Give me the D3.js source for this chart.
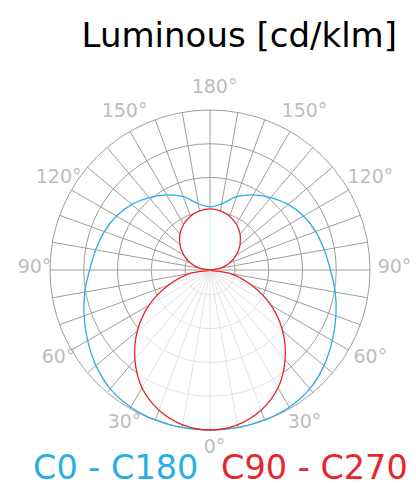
<!DOCTYPE html>
<html><head><meta charset="utf-8">
<script src="https://cdn.jsdelivr.net/npm/d3@7"></script>
<style>body{margin:0;background:#fff} svg{display:block} text{font-family:"DejaVu Sans",sans-serif}</style>
</head><body><svg id="c" width="416" height="486"></svg>
<script>
// gamma angles (deg, 0 = nadir, 180 = zenith)
const angles = [0,10,20,30,40,50,60,70,80,90,100,110,120,130,140,150,160,170,180];
// C0 - C180 plane (cd/klm)
const c0c180 = [400,400,399,396,388,372,353,335,318,301,290,281,270,255,236,217,195,168,158];
// C90 - C270 plane (cd/klm)
const c90c270 = [400,393,373,340,292,237,176,110,52,0,27,52,76,98,117,132,143,150,153];
const ringValues = [62.5,146.9,231.3,315.6,400];
const gridAngles = d3.range(0,360,10);
const angleLabels = [0,30,60,90,120,150,180];
const seriesNames = ["C0 - C180","C90 - C270"];
const seriesColors = ["#2aaee5","#e8242d"];
const title = "Luminous [cd/klm]";

const svg = d3.select("#c");
const cx = 210, cy = 270, R = 160;
const r = d3.scaleLinear().domain([0,400]).range([0,R]);
const rad = d => d*Math.PI/180;
const g = svg.append("g").attr("transform",`translate(${cx},${cy})`);

// grid
g.selectAll("circle.ring").data(ringValues).join("circle")
  .attr("r",d=>r(d)).attr("fill","none").attr("stroke","#9e9e9e").attr("stroke-width",1);
g.selectAll("line.spoke").data(gridAngles).join("line")
  .attr("x1",0).attr("y1",0)
  .attr("x2",d=>R*Math.sin(rad(d))).attr("y2",d=>R*Math.cos(rad(d)))
  .attr("stroke","#9e9e9e").attr("stroke-width",1);

// symmetric curve points: right side (top to bottom) then left side (bottom to top)
function pts(vals, from, to){
  const out=[];
  for(let i=angles.length-1;i>=0;i--){const t=angles[i]; if(t>=from&&t<=to) out.push([Math.PI-rad(t), r(vals[i])]);}
  for(let i=0;i<angles.length;i++){const t=angles[i]; if(t>from&&t<to) out.push([Math.PI+rad(t), r(vals[i])]);}
  return out;
}
const loop = vals => pts(vals,0,180);
const line = d3.lineRadial().curve(d3.curveCatmullRomClosed.alpha(0.5));

// red fills
g.append("path").attr("d",line(pts(c90c270,0,90))).attr("fill","#fff").attr("fill-opacity",0.7);
g.append("path").attr("d",line(pts(c90c270,90,180))).attr("fill","#fff").attr("fill-opacity",1);

// faint centre line of C0-C180 plane
g.append("line").attr("x1",0).attr("y1",0).attr("x2",0).attr("y2",-r(c0c180[c0c180.length-1]))
  .attr("stroke","#cdeefb").attr("stroke-width",1);

g.append("path").attr("d",line(loop(c0c180))).attr("fill","none").attr("stroke",seriesColors[0]).attr("stroke-width",1.3);
g.append("path").attr("d",line(loop(c90c270))).attr("fill","none").attr("stroke",seriesColors[1]).attr("stroke-width",1.3);

// angle labels
const labs=[];
angleLabels.forEach(t=>{ labs.push({t, a:Math.PI-rad(t)}); if(t>0&&t<180) labs.push({t, a:Math.PI+rad(t)}); });
g.selectAll("text.al").data(labs).join("text")
  .attr("x",d=>180*Math.sin(d.a)+4.5).attr("y",d=>-180*Math.cos(d.a)-4.5)
  .attr("text-anchor","middle").attr("dominant-baseline","central")
  .attr("font-size",19).attr("fill","#bdbdbd").text(d=>d.t+"°");

// title
svg.append("text").attr("x",397).attr("y",47).attr("text-anchor","end").attr("font-size",34).attr("fill","#000").text(title);
// legend
svg.append("text").attr("x",33).attr("y",479).attr("font-size",33.5).attr("fill",seriesColors[0]).text(seriesNames[0]);
svg.append("text").attr("x",221).attr("y",479).attr("font-size",33.5).attr("fill",seriesColors[1]).text(seriesNames[1]);
</script></body></html>
